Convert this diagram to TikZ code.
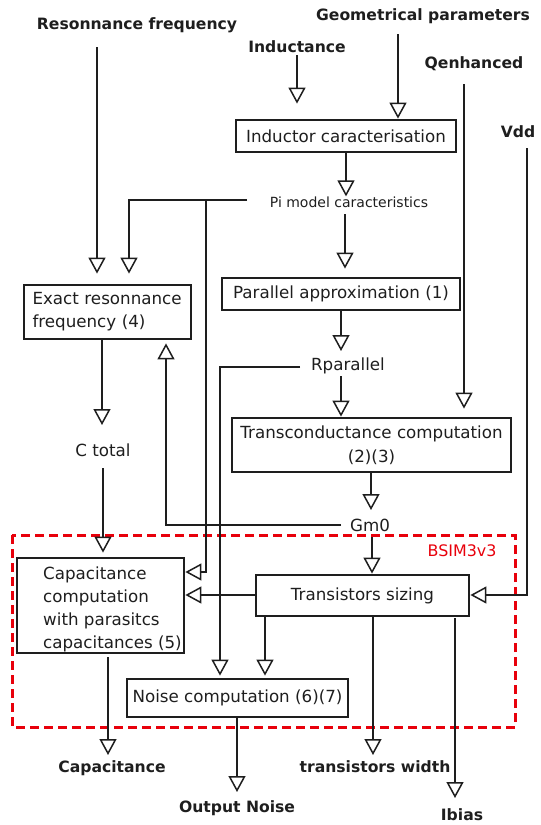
\documentclass[tikz,border=0pt]{standalone}
\usepackage{fontspec}
\setmainfont{DejaVu Sans}
\usetikzlibrary{arrows.meta}
\definecolor{lc}{HTML}{1E1E1E}
\definecolor{bred}{HTML}{E8000B}
\begin{document}
\begin{tikzpicture}[x=1pt,y=-1pt,
  lbl/.style={font=\fontsize{15.6}{18}\selectfont\bfseries, inner sep=0, text=lc},
  txt/.style={font=\fontsize{16.7}{23}\selectfont, inner sep=0, text=lc},
  small/.style={font=\fontsize{14}{16}\selectfont, inner sep=0, text=lc},
  box/.style={draw=lc, line width=2.8pt, inner sep=0, font=\fontsize{16.7}{23}\selectfont, text=lc},
  arr/.style={draw=lc, line width=1.5pt, -{Triangle[open,length=16pt,width=17pt]}}
]
\useasboundingbox (0,0) rectangle (541,825);

% top inputs
\node[lbl] (resf) at (137,25) {Resonnance frequency};
\node[lbl] (geom) at (423,16) {Geometrical parameters};
\node[lbl] (indu) at (297,47) {Inductance};
\node[lbl] (qenh) at (474,64) {Qenhanced};
\node[lbl] (vdd) at (518,132) {Vdd};

% boxes
\node[box, minimum width=220, minimum height=32] (indbox) at (346,136) {Inductor caracterisation};
\node[small] (pim) at (349,202) {Pi model caracteristics};
\node[box, minimum width=238, minimum height=32] (parbox) at (341,294) {Parallel approximation (1)};
\node[box, minimum width=167, minimum height=54, text width=150, align=left] (exact) at (107.5,312) {Exact resonnance\\frequency (4)};
\node[txt] (rpar) at (348,366) {Rparallel};
\node[box, minimum width=279, minimum height=54, align=center, font=\fontsize{16.7}{24}\selectfont] (trans) at (371.5,445) {Transconductance computation\\(2)(3)};
\node[txt] (ctot) at (103,450) {C total};
\node[txt] (gm0) at (370,525) {Gm0};

% BSIM region
\draw[bred, line width=3pt, dash pattern=on 9pt off 5pt] (12,535) rectangle (515,727);
\node[txt, text=bred, font=\fontsize{15.9}{18}\selectfont] (bsim) at (462,551) {BSIM3v3};

\node[box, minimum width=167, minimum height=95] (capbox) at (100.5,605.5) {};
\node[txt, align=left, anchor=west] (captxt) at (43,609.5) {Capacitance\\computation\\with parasitcs\\capacitances (5)};
\node[box, minimum width=213, minimum height=41] (tsz) at (362.5,595.5) {Transistors sizing};
\node[box, minimum width=221, minimum height=38] (noise) at (237.5,698) {Noise computation (6)(7)};

% outputs
\node[lbl] (ocap) at (112,768) {Capacitance};
\node[lbl] (onoise) at (237,808) {Output Noise};
\node[lbl] (otw) at (375,767) {transistors width};
\node[lbl] (oib) at (462,815) {Ibias};

% connectors
\draw[arr, shorten >=10pt] (97,47) -- (exact.north -| 97,0);
\draw[arr, shorten >=15pt] (297,55) -- (indbox.north -| 297,0);
\draw[arr] (398,34) -- (indbox.north -| 398,0);
\draw[arr] (indbox.south) -- (indbox.south |- pim.north);
\coordinate (pimj) at (206,200);
\draw[arr, shorten >=10pt] (247,200) -| (exact.north -| 129,0);
\draw[arr] (pimj) |- (capbox.east |- 0,572);
\draw[arr, shorten >=8pt] (345,214) -- (parbox.north -| 345,0);
\draw[arr] (parbox.south -| 341,0) -- (341,351);
\draw[arr, shorten >=2pt] (300,367) -| (noise.north -| 220,0);
\draw[arr] (341,376) -- (trans.north -| 341,0);
\draw[arr, shorten >=8pt] (464,84) -- (trans.north -| 464,0);
\draw[arr] (527,148) |- (tsz.east |- 0,595);
\draw[arr] (trans.south -| 371,0) -- (371,510);
\draw[arr, shorten >=3pt] (341,525) -| (exact.south -| 166,0);
\draw[arr] (372,537) -- (tsz.north -| 372,0);
\draw[arr] (exact.south -| 102,0) -- (102,425);
\draw[arr, shorten >=4pt] (103,468) -- (capbox.north -| 103,0);
\draw[arr] (tsz.west |- 0,595) -- (capbox.east |- 0,595);
\draw[arr, shorten >=2pt] (tsz.south -| 265,0) -- (noise.north -| 265,0);
\draw[arr] (tsz.south -| 373,0) -- (373,755);
\draw[arr] (455,618) -- (455,798);
\draw[arr] (108,657) -- (108,755);
\draw[arr] (noise.south -| 237,0) -- (237,792);
\end{tikzpicture}
\end{document}
